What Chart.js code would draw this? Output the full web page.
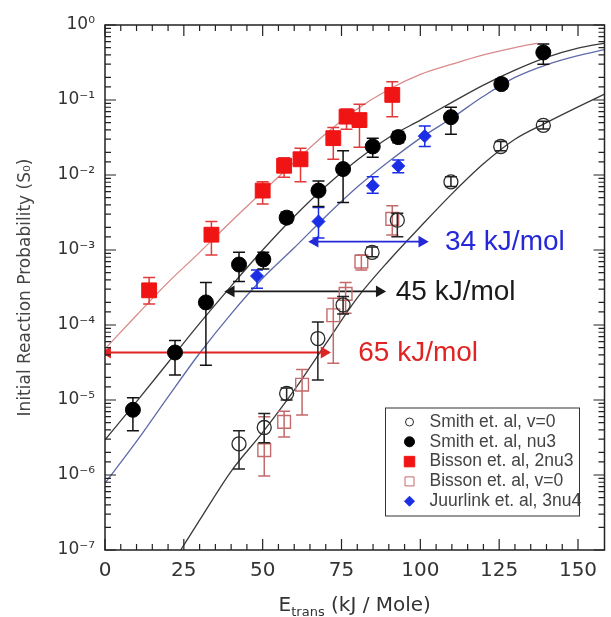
<!DOCTYPE html>
<html>
<head>
<meta charset="utf-8">
<script src="https://cdn.jsdelivr.net/npm/chart.js@4"></script>
<style>
    html, body { margin: 0; padding: 0; overflow: hidden; background: #fff; }
</style>
</head>
<body>
<canvas id="chart" width="616" height="617"></canvas>
<script>
const smithV0X = [42.5, 50.5, 57.6, 67.5, 75.5, 84.7, 92.7, 109.7, 125.5, 139];
const smithV0Y = [2.6e-6, 4.3e-6, 1.22e-5, 6.6e-5, 1.85e-4, 9.3e-4, 2.5e-3, 8.1e-3, 2.4e-2, 4.6e-2];
const smithV0Lo = [1.2e-6, 2.7e-6, 1.0e-5, 1.85e-5, 1.4e-4, 8.1e-4, 1.5e-3, 7.0e-3, 2.1e-2, 4.1e-2];
const smithV0Hi = [3.9e-6, 6.6e-6, 1.45e-5, 1.1e-4, 2.4e-4, 1.1e-3, 3.1e-3, 9.5e-3, 2.8e-2, 5.2e-2];

const smithNu3X = [8.85, 22.2, 32, 42.5, 50.2, 57.6, 67.7, 75.5, 84.9, 93, 109.7, 125.7, 139];
const smithNu3Y = [7.4e-6, 4.3e-5, 2.0e-4, 6.4e-4, 7.5e-4, 2.7e-3, 6.2e-3, 1.2e-2, 2.4e-2, 3.2e-2, 5.9e-2, 0.163, 0.43];
const smithNu3Lo = [3.9e-6, 2.15e-5, 2.9e-5, 3.8e-4, 5.6e-4, 2.3e-3, 3.8e-3, 4.3e-3, 1.73e-2, 2.7e-2, 3.5e-2, 0.14, 0.30];
const smithNu3Hi = [1.07e-5, 6.2e-5, 3.7e-4, 9.3e-4, 9.3e-4, 3.2e-3, 8.3e-3, 2.1e-2, 3.1e-2, 3.8e-2, 8.0e-2, 0.19, 0.56];

const bisson2nu3X = [14, 33.75, 50, 56.8, 62, 72.4, 76.6, 80.7, 91.1];
const bisson2nu3Y = [2.9e-4, 1.6e-3, 6.2e-3, 1.33e-2, 1.62e-2, 3.1e-2, 6.0e-2, 5.4e-2, 0.117];
const bisson2nu3Lo = [1.9e-4, 8.6e-4, 4.1e-3, 9.3e-3, 8.1e-3, 1.62e-2, 4.07e-2, 2.35e-2, 6.0e-2];
const bisson2nu3Hi = [4.3e-4, 2.4e-3, 8.1e-3, 1.7e-2, 2.27e-2, 4.3e-2, 7.6e-2, 8.8e-2, 0.175];

const bissonV0X = [50.5, 56.8, 62.5, 72.4, 76.3, 81.3, 91.1];
const bissonV0Y = [2.15e-6, 5.1e-6, 1.6e-5, 1.35e-4, 2.6e-4, 7.0e-4, 2.6e-3];
const bissonV0Lo = [9.7e-7, 3.2e-6, 6.3e-6, 3.1e-5, 1.43e-4, 5.4e-4, 1.58e-3];
const bissonV0Hi = [6.0e-6, 7.1e-6, 2.56e-5, 2.27e-4, 3.7e-4, 8.6e-4, 3.9e-3];

const juurlinkX = [48.2, 67.7, 84.9, 93, 101.4];
const juurlinkY = [4.5e-4, 2.4e-3, 7.2e-3, 1.32e-2, 3.3e-2];
const juurlinkLo = [3.1e-4, 1.44e-3, 5.7e-3, 1.07e-2, 2.4e-2];
const juurlinkHi = [5.4e-4, 3.7e-3, 9.5e-3, 1.58e-2, 4.5e-2];

// fit curves
const fitRedX = [0, 10, 20, 30, 40, 50, 60, 70, 80, 90, 100, 110, 120, 130, 137];
const fitRedY = [4.8e-5, 1.35e-4, 3.7e-4, 9.3e-4, 2.4e-3, 6.0e-3, 1.48e-2, 3.55e-2, 7.6e-2, 0.138, 0.219, 0.30, 0.40, 0.50, 0.57];
const fitNu3X = [0, 10, 20, 30, 40, 50, 60, 70, 80, 90, 100, 110, 120, 130, 140, 150, 158.4];
const fitNu3Y = [2.95e-6, 9.5e-6, 3.16e-5, 1.05e-4, 3.3e-4, 1.0e-3, 2.8e-3, 7.1e-3, 1.58e-2, 3.16e-2, 5.4e-2, 9.3e-2, 0.158, 0.25, 0.37, 0.49, 0.575];
const fit3nu4X = [0, 10, 20, 30, 40, 50, 60, 70, 80, 90, 100, 110, 120, 130, 140, 150, 158.4];
const fit3nu4Y = [7.8e-7, 2.8e-6, 1.1e-5, 4.2e-5, 1.41e-4, 4.2e-4, 1.07e-3, 2.8e-3, 6.9e-3, 1.51e-2, 3.1e-2, 5.75e-2, 0.112, 0.20, 0.295, 0.39, 0.47];
const fitV0X = [24, 30, 40, 50, 60, 70, 80, 90, 100, 110, 120, 130, 140, 150, 158.4];
const fitV0Y = [1e-7, 2.5e-7, 1.12e-6, 3.7e-6, 1.35e-5, 5.6e-5, 2.3e-4, 7.2e-4, 2.04e-3, 5.6e-3, 1.41e-2, 3.0e-2, 5.0e-2, 8.1e-2, 0.12];

// barrier shift arrows
const arrowY = [4.3e-5, 2.8e-4, 1.29e-3];
const arrowFrom = [0.8, 40, 66.6];
const arrowTo = [69.5, 87, 100.5];
const arrowText = ["65 kJ/mol", "45 kJ/mol", "34 kJ/mol"];
const arrowTextX = [80.3, 92.2, 107.8];
const arrowColors = ["#e02424", "#1a1a1a", "#2428d8"];

const xTickLabels = [0, 25, 50, 75, 100, 125, 150];

const SUP = { "-": "⁻", "0": "⁰", "1": "¹", "2": "²", "3": "³", "4": "⁴", "5": "⁵", "6": "⁶", "7": "⁷", "8": "⁸", "9": "⁹" };

function points(xs, ys) {
    return xs.map((x, i) => ({ x, y: ys[i] }));
}

function powerLabel(value) {
    const exp = Math.round(Math.log10(value));
    if (Math.abs(Math.log10(value) - exp) > 1e-6) return "";
    return "10" + String(exp).split("").map(c => SUP[c]).join("");
}

function markerSet(label, xs, ys, lo, hi, style) {
    return Object.assign({
        label, data: points(xs, ys), errLo: lo, errHi: hi, showLine: false, legend: true, order: 0
    }, style);
}

function curve(xs, ys, color, width) {
    return { data: points(xs, ys), showLine: true, pointRadius: 0, borderColor: color, borderWidth: width, cubicInterpolationMode: "monotone", order: 10 };
}

function arrow(i) {
    return {
        data: [{ x: arrowFrom[i], y: arrowY[i] }, { x: arrowTo[i], y: arrowY[i] }],
        showLine: true, borderColor: arrowColors[i], backgroundColor: arrowColors[i], borderWidth: 1.8,
        pointStyle: "triangle", pointRadius: 5, rotation: [-90, 90], order: 5
    };
}

const datasets = [
    markerSet("Smith et. al, v=0", smithV0X, smithV0Y, smithV0Lo, smithV0Hi,
        { pointStyle: "circle", pointRadius: 7, backgroundColor: "rgba(0,0,0,0)", borderColor: "#2a2a2a", borderWidth: 1.3, errColor: "#222", legendR: 4 }),
    markerSet("Smith et. al, nu3", smithNu3X, smithNu3Y, smithNu3Lo, smithNu3Hi,
        { pointStyle: "circle", pointRadius: 7.5, backgroundColor: "#000", borderColor: "#000", borderWidth: 1, errColor: "#111", legendR: 5 }),
    markerSet("Bisson et. al, 2nu3", bisson2nu3X, bisson2nu3Y, bisson2nu3Lo, bisson2nu3Hi,
        { pointStyle: "rect", pointRadius: 10.5, backgroundColor: "#f01414", borderColor: "#f01414", borderWidth: 1, errColor: "#e23a3a", legendR: 7 }),
    markerSet("Bisson et. al, v=0", bissonV0X, bissonV0Y, bissonV0Lo, bissonV0Hi,
        { pointStyle: "rect", pointRadius: 9, backgroundColor: "rgba(0,0,0,0)", borderColor: "#c46a6a", borderWidth: 1.4, errColor: "#c46a6a", legendR: 6 }),
    markerSet("Juurlink et. al, 3nu4", juurlinkX, juurlinkY, juurlinkLo, juurlinkHi,
        { pointStyle: "rectRot", pointRadius: 6.5, backgroundColor: "#1a2ee6", borderColor: "#1a2ee6", borderWidth: 1, errColor: "#1a2ee6", legendR: 5 }),
    arrow(0), arrow(1), arrow(2),
    curve(fitRedX, fitRedY, "#d98a8a", 1.3),
    curve(fitNu3X, fitNu3Y, "#3a3a3a", 1.3),
    curve(fit3nu4X, fit3nu4Y, "#5f6ba8", 1.3),
    curve(fitV0X, fitV0Y, "#3a3a3a", 1.3)
];

const errorBars = {
    id: "errorBars",
    beforeDatasetDraw(chart, args) {
        const ds = chart.data.datasets[args.index];
        if (!ds.errLo) return;
        const { ctx, scales: { x, y } } = chart;
        ctx.save();
        ctx.strokeStyle = ds.errColor;
        ctx.lineWidth = 1.5;
        ds.data.forEach((p, i) => {
            const px = x.getPixelForValue(p.x);
            const top = y.getPixelForValue(ds.errHi[i]);
            const bottom = y.getPixelForValue(ds.errLo[i]);
            ctx.beginPath();
            ctx.moveTo(px, top); ctx.lineTo(px, bottom);
            ctx.moveTo(px - 6, top); ctx.lineTo(px + 6, top);
            ctx.moveTo(px - 6, bottom); ctx.lineTo(px + 6, bottom);
            ctx.stroke();
        });
        ctx.restore();
    }
};

function drawMarker(ctx, ds, cx, cy, r) {
    ctx.beginPath();
    if (ds.pointStyle === "circle") ctx.arc(cx, cy, r, 0, Math.PI * 2);
    else if (ds.pointStyle === "rect") ctx.rect(cx - r * 0.75, cy - r * 0.75, r * 1.5, r * 1.5);
    else { ctx.moveTo(cx, cy - r); ctx.lineTo(cx + r, cy); ctx.lineTo(cx, cy + r); ctx.lineTo(cx - r, cy); ctx.closePath(); }
    ctx.fillStyle = ds.backgroundColor;
    ctx.fill();
    ctx.strokeStyle = ds.borderColor;
    ctx.lineWidth = 1;
    ctx.stroke();
}

const decorations = {
    id: "decorations",
    afterDraw(chart) {
        const { ctx, chartArea: a, scales: { x, y } } = chart;
        ctx.save();
        // frame
        ctx.strokeStyle = "#222";
        ctx.lineWidth = 1.5;
        ctx.strokeRect(a.left, a.top, a.right - a.left, a.bottom - a.top);
        // inward ticks on all four sides
        ctx.lineWidth = 1.2;
        ctx.beginPath();
        x.ticks.forEach(t => {
            if (Math.abs(t.value / 5 - Math.round(t.value / 5)) > 1e-6) return;
            const px = x.getPixelForValue(t.value);
            const len = t.value % 25 === 0 ? 11 : 6;
            ctx.moveTo(px, a.bottom); ctx.lineTo(px, a.bottom - len);
            ctx.moveTo(px, a.top); ctx.lineTo(px, a.top + len);
        });
        y.ticks.forEach(t => {
            const py = y.getPixelForValue(t.value);
            const len = powerLabel(t.value) ? 11 : 6;
            ctx.moveTo(a.left, py); ctx.lineTo(a.left + len, py);
            ctx.moveTo(a.right, py); ctx.lineTo(a.right - len, py);
        });
        ctx.stroke();

        // arrow labels
        ctx.font = '28px "Liberation Sans", Arial, sans-serif';
        ctx.textBaseline = "middle";
        ctx.textAlign = "left";
        arrowText.forEach((text, i) => {
            ctx.fillStyle = arrowColors[i];
            ctx.fillText(text, x.getPixelForValue(arrowTextX[i]), y.getPixelForValue(arrowY[i]) + 1);
        });

        // legend box
        const entries = chart.data.datasets.filter(d => d.legend);
        const boxL = a.right - 219, boxR = a.right - 25, boxB = a.bottom - 34, rowH = 19.8;
        const boxT = boxB - 108;
        ctx.fillStyle = "#fff";
        ctx.fillRect(boxL, boxT, boxR - boxL, boxB - boxT);
        ctx.strokeStyle = "#333";
        ctx.lineWidth = 1;
        ctx.strokeRect(boxL, boxT, boxR - boxL, boxB - boxT);
        ctx.font = '17.5px "Liberation Sans", Arial, sans-serif';
        entries.forEach((ds, i) => {
            const cy = boxT + 14 + i * rowH;
            drawMarker(ctx, ds, boxL + 24, cy, ds.legendR);
            ctx.fillStyle = "#444";
            ctx.fillText(ds.label, boxL + 44, cy);
        });

        // y title
        ctx.save();
        ctx.translate(26, (a.top + a.bottom) / 2);
        ctx.rotate(-Math.PI / 2);
        ctx.font = '17px "DejaVu Sans", sans-serif';
        ctx.fillStyle = "#444";
        ctx.textAlign = "center";
        ctx.fillText("Initial Reaction Probability (S₀)", 0, 0);
        ctx.restore();

        // x title with subscript
        const big = '20px "DejaVu Sans", sans-serif', small = '13px "DejaVu Sans", sans-serif';
        ctx.textBaseline = "alphabetic";
        ctx.fillStyle = "#333";
        ctx.font = big; const wE = ctx.measureText("E").width; const wRest = ctx.measureText(" (kJ / Mole)").width;
        ctx.font = small; const wSub = ctx.measureText("trans").width;
        let tx = (a.left + a.right) / 2 - (wE + wSub + wRest) / 2;
        ctx.font = big; ctx.fillText("E", tx, 611); tx += wE;
        ctx.font = small; ctx.fillText("trans", tx, 616); tx += wSub;
        ctx.font = big; ctx.fillText(" (kJ / Mole)", tx, 611);
        ctx.restore();
    }
};

new Chart(document.getElementById("chart"), {
    type: "scatter",
    data: { datasets },
    options: {
        responsive: false,
        animation: false,
        layout: { padding: { top: 25, right: 4, left: 0, bottom: 0 } },
        plugins: { legend: { display: false }, tooltip: { enabled: false } },
        scales: {
            x: {
                type: "linear", min: 0, max: 158.4,
                afterFit: s => { s.height = 67; },
                grid: { display: false, drawTicks: false },
                border: { display: false },
                ticks: {
                    stepSize: 5, maxTicksLimit: 1000, autoSkip: false, maxRotation: 0, padding: 9,
                    color: "#333", font: { family: "DejaVu Sans", size: 20 },
                    callback: v => xTickLabels.includes(v) ? String(v) : ""
                }
            },
            y: {
                type: "logarithmic", min: 1e-7, max: 1,
                afterFit: s => { s.width = 105; },
                grid: { display: false, drawTicks: false },
                border: { display: false },
                ticks: {
                    autoSkip: false, padding: 10,
                    color: "#333", font: { family: "DejaVu Sans", size: 17 },
                    callback: v => powerLabel(v)
                }
            }
        }
    },
    plugins: [errorBars, decorations]
});
</script>
</body>
</html>
